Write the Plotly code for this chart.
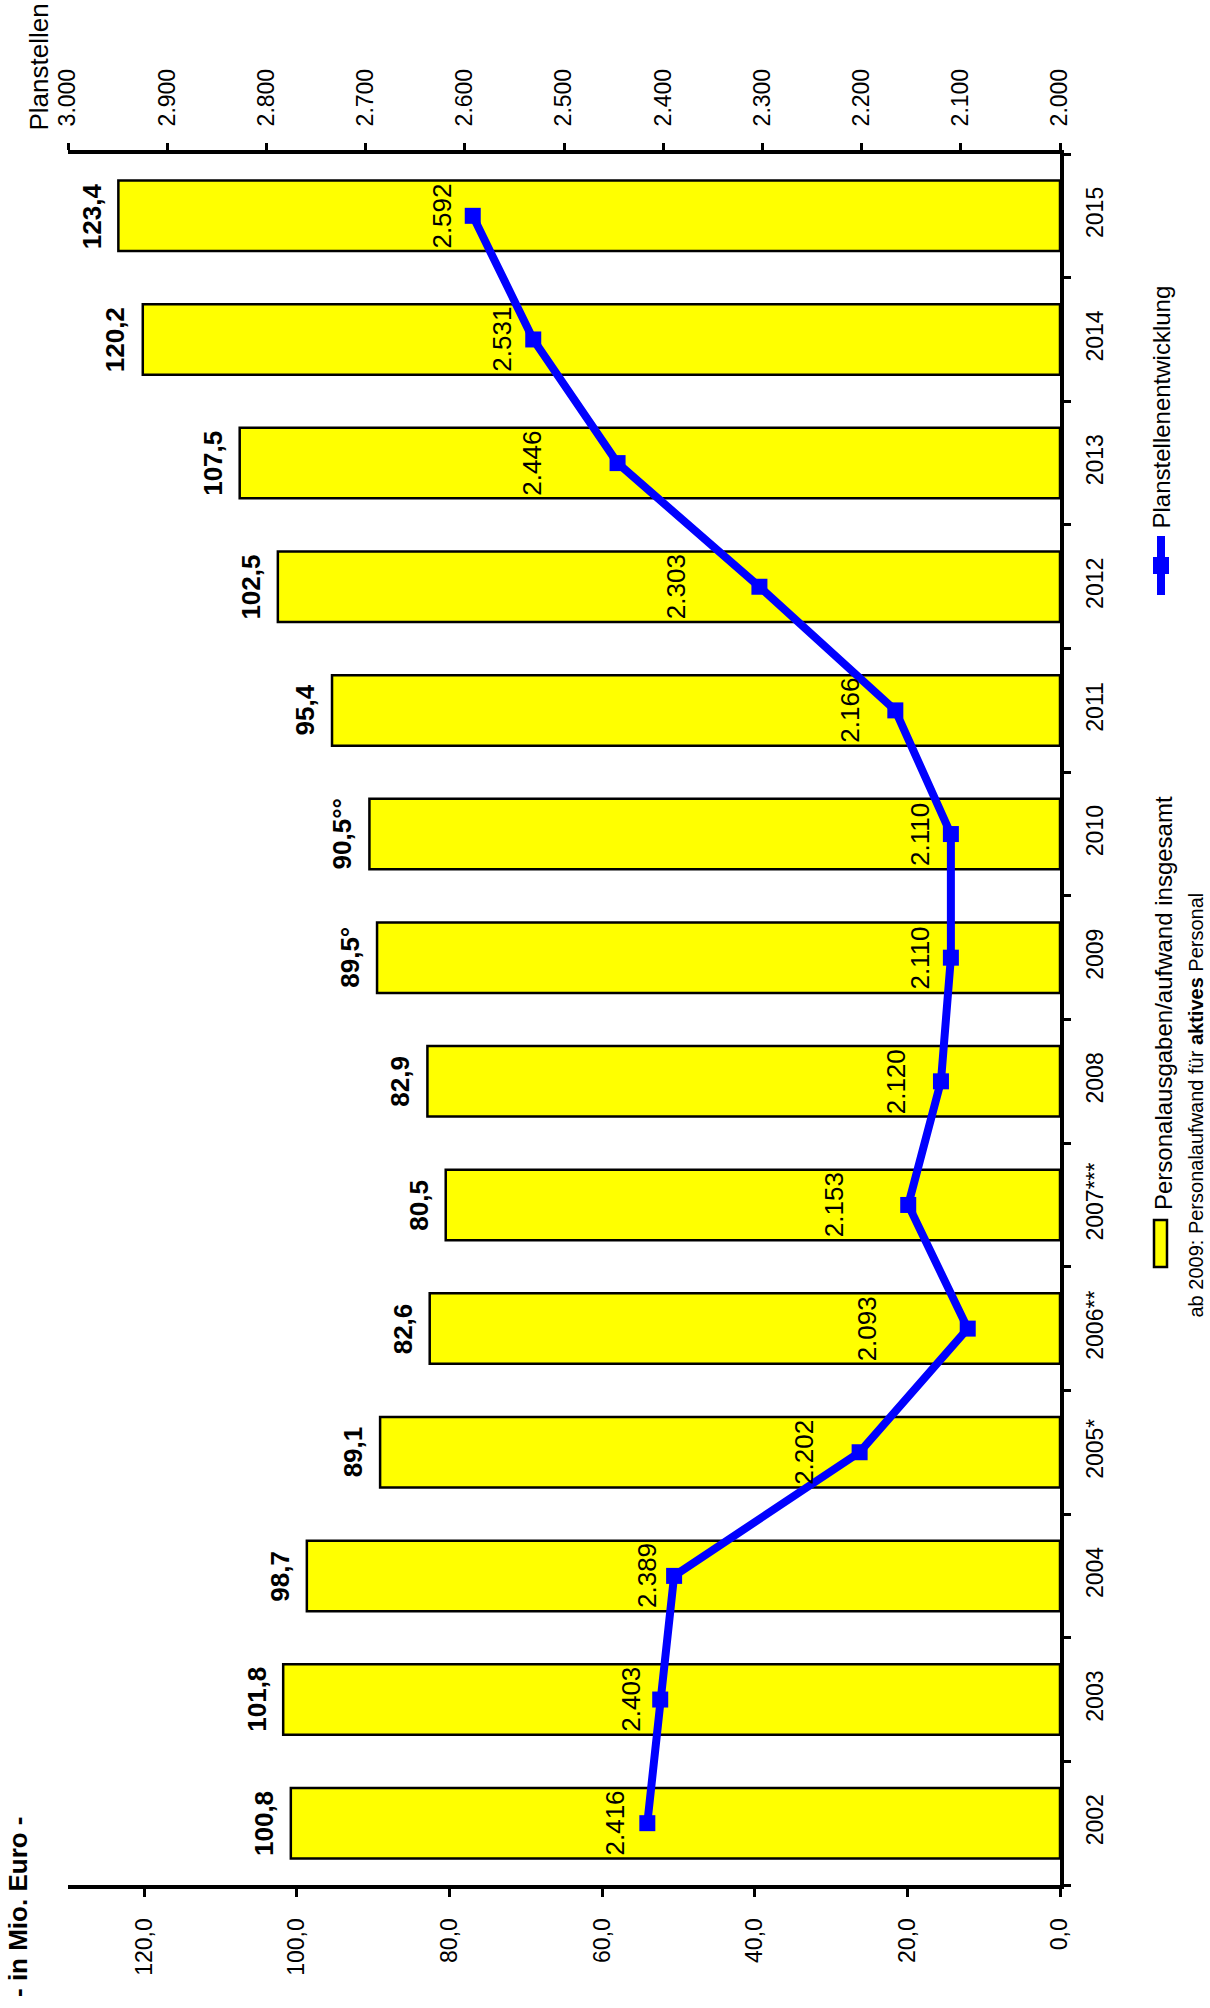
import plotly.graph_objects as go

categories = ["2002", "2003", "2004", "2005*", "2006**", "2007***", "2008",
              "2009", "2010", "2011", "2012", "2013", "2014", "2015"]
personal = [100.8, 101.8, 98.7, 89.1, 82.6, 80.5, 82.9, 89.5, 90.5, 95.4, 102.5, 107.5, 120.2, 123.4]
personal_labels = ["100,8", "101,8", "98,7", "89,1", "82,6", "80,5", "82,9",
                   "89,5°", "90,5°°", "95,4", "102,5", "107,5", "120,2", "123,4"]
planstellen = [2416, 2403, 2389, 2202, 2093, 2153, 2120, 2110, 2110, 2166, 2303, 2446, 2531, 2592]
x_ticks = [0, 20, 40, 60, 80, 100, 120]
x_ticktext = ["0,0", "20,0", "40,0", "60,0", "80,0", "100,0", "120,0"]
x2_ticks = [2000, 2100, 2200, 2300, 2400, 2500, 2600, 2700, 2800, 2900, 3000]
x2_ticktext = ["2.000", "2.100", "2.200", "2.300", "2.400", "2.500", "2.600",
               "2.700", "2.800", "2.900", "3.000"]

# pixel shift of each Planstellen label from its marker (manual label placement)
plan_label_shift = [-32, -30, -27, -55, -101, -74, -45, -31, -31, -45, -84, -85, -31, -31]

W, H = 1210, 2008
L, R, T, B = 68, 1060, 154, 1885
FONT = "Arial, Liberation Sans, sans-serif"


def px(x):
    return (x - L) / (R - L)


def py(y):
    return (B - y) / (B - T)


fig = go.Figure()
fig.add_trace(go.Bar(
    x=personal, y=categories, orientation="h",
    marker=dict(color="#FFFF00", line=dict(color="black", width=2.5)),
    showlegend=False, hoverinfo="skip"))
fig.add_trace(go.Scatter(
    x=planstellen, y=categories, xaxis="x2", yaxis="y",
    mode="lines+markers",
    line=dict(color="#0000FF", width=8),
    marker=dict(symbol="square", size=16, color="#0000FF"),
    showlegend=False, hoverinfo="skip", cliponaxis=False))

ann = []
for i, (v, lab) in enumerate(zip(personal, personal_labels)):
    ann.append(dict(x=v, y=i, xref="x", yref="y", text="<b>%s</b>" % lab,
                    showarrow=False, textangle=-90, xanchor="center", yanchor="middle",
                    xshift=-27, font=dict(size=26, color="black", family=FONT)))
for i, (v, sh) in enumerate(zip(planstellen, plan_label_shift)):
    lab = "{:,}".format(v).replace(",", ".")
    ann.append(dict(x=v, y=i, xref="x2", yref="y", text=lab,
                    showarrow=False, textangle=-90, xanchor="center", yanchor="middle",
                    xshift=sh, font=dict(size=26, color="black", family=FONT)))

# titles
ann.append(dict(x=px(38), y=py(133), xref="paper", yref="paper", text="Planstellen",
                showarrow=False, textangle=-90, xanchor="center", yanchor="bottom",
                font=dict(size=26, color="black", family=FONT)))
ann.append(dict(x=px(18), y=py(1907), xref="paper", yref="paper", text="<b>- in Mio. Euro -</b>",
                showarrow=False, textangle=-90, xanchor="center", yanchor="middle",
                font=dict(size=26, color="black", family=FONT)))
# legend texts
ann.append(dict(x=px(1163), y=py(1212), xref="paper", yref="paper",
                text="Personalausgaben/aufwand insgesamt",
                showarrow=False, textangle=-90, xanchor="center", yanchor="bottom",
                font=dict(size=24, color="black", family=FONT)))
ann.append(dict(x=px(1195), y=py(1320), xref="paper", yref="paper",
                text="ab 2009: Personalaufwand für <b>aktives</b> Personal",
                showarrow=False, textangle=-90, xanchor="center", yanchor="bottom",
                font=dict(size=20, color="black", family=FONT)))
ann.append(dict(x=px(1161), y=py(531), xref="paper", yref="paper",
                text="Planstellenentwicklung",
                showarrow=False, textangle=-90, xanchor="center", yanchor="bottom",
                font=dict(size=24, color="black", family=FONT)))

shapes = [
    dict(type="rect", xref="paper", yref="paper", x0=px(1154), x1=px(1167), y0=py(1267), y1=py(1220),
         fillcolor="#FFFF00", line=dict(color="black", width=2.5)),
    dict(type="line", xref="paper", yref="paper", x0=px(1161), x1=px(1161), y0=py(595), y1=py(536),
         line=dict(color="#0000FF", width=8)),
    dict(type="rect", xref="paper", yref="paper", x0=px(1153), x1=px(1169), y0=py(574), y1=py(557),
         fillcolor="#0000FF", line=dict(color="#0000FF", width=0)),
]

axis_font = dict(size=23, color="black", family=FONT)
fig.update_layout(
    width=W, height=H,
    margin=dict(l=L, r=W - R, t=T, b=H - B, pad=0),
    paper_bgcolor="white", plot_bgcolor="white",
    bargap=0.43,
    showlegend=False,
    font=dict(family=FONT, color="black"),
    xaxis=dict(range=[130, 0], tickvals=x_ticks, ticktext=x_ticktext, tickangle=-90,
               showline=True, linecolor="black", linewidth=4, ticks="outside", ticklen=8,
               tickwidth=2.5, tickcolor="black", showgrid=False, zeroline=False,
               tickfont=axis_font, ticklabelstandoff=12, fixedrange=True),
    xaxis2=dict(range=[3000, 2000], overlaying="x", side="top", anchor="y",
                tickvals=x2_ticks, ticktext=x2_ticktext, tickangle=-90,
                showline=True, linecolor="black", linewidth=4, ticks="outside", ticklen=7,
                tickwidth=2.5, tickcolor="black", showgrid=False, zeroline=False,
                tickfont=axis_font, ticklabelstandoff=12),
    yaxis=dict(type="category", categoryorder="array", categoryarray=categories, side="right",
               range=[-0.5, 13.5],
               showline=True, linecolor="black", linewidth=3.5, ticks="outside", ticklen=7,
               tickwidth=2.5, tickcolor="black", tickson="boundaries", tickangle=-90,
               showgrid=False, zeroline=False, tickfont=axis_font, ticklabelstandoff=12),
    annotations=ann,
    shapes=shapes,
)

fig.write_html("out.html", config={"displayModeBar": False},
               post_script="document.body.style.margin='0';document.body.style.overflow='hidden';")
